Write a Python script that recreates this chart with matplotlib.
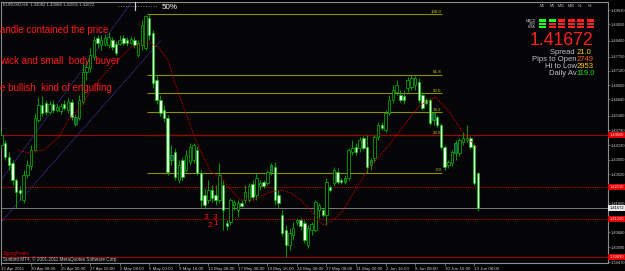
import matplotlib
matplotlib.use("Agg")
import matplotlib.pyplot as plt
from matplotlib.patches import Rectangle
from matplotlib.lines import Line2D

plt.rcParams['font.family'] = ['Liberation Sans', 'DejaVu Sans']

# EURUSD H8 candles, bar 0 = 15 Apr 2011 00:00
opens = [1.4420, 1.4428, 1.4371, 1.4347, 1.4279, 1.4239, 1.4198, 1.4299, 1.4335, 1.4400,
         1.4520, 1.4581, 1.4589, 1.4553, 1.4585, 1.4561, 1.4557, 1.4585, 1.4561, 1.4593,
         1.4532, 1.4528, 1.4593, 1.4714, 1.4730, 1.4774, 1.4850, 1.4822, 1.4826, 1.4822,
         1.4842, 1.4826, 1.4826, 1.4850, 1.4842, 1.4830, 1.4842, 1.4782, 1.4822, 1.4810,
         1.4931, 1.4870, 1.4681, 1.4601, 1.4561, 1.4528, 1.4379, 1.4392, 1.4279, 1.4359,
         1.4319, 1.4351, 1.4359, 1.4400, 1.4307, 1.4218, 1.4198, 1.4239, 1.4218, 1.4198,
         1.4259, 1.4106, 1.4110, 1.4178, 1.4158, 1.4186, 1.4198, 1.4198, 1.4263, 1.4218,
         1.4255, 1.4271, 1.4267, 1.4339, 1.4331, 1.4218, 1.4138, 1.4078, 1.4017, 1.4057,
         1.4110, 1.4118, 1.4106, 1.4017, 1.4078, 1.4078, 1.4158, 1.4158, 1.4138, 1.4251,
         1.4267, 1.4311, 1.4279, 1.4287, 1.4287, 1.4392, 1.4412, 1.4408, 1.4448, 1.4412,
         1.4359, 1.4367, 1.4452, 1.4500, 1.4480, 1.4549, 1.4601, 1.4633, 1.4621, 1.4617,
         1.4649, 1.4653, 1.4661, 1.4673, 1.4621, 1.4601, 1.4601, 1.4549, 1.4532, 1.4500,
         1.4412, 1.4339, 1.4347, 1.4428, 1.4388, 1.4432, 1.4440, 1.4448, 1.4420, 1.4308]
highs = [1.4480, 1.4440, 1.4392, 1.4359, 1.4287, 1.4255, 1.4319, 1.4359, 1.4420, 1.4549,
         1.4613, 1.4617, 1.4601, 1.4597, 1.4601, 1.4585, 1.4589, 1.4601, 1.4609, 1.4605,
         1.4544, 1.4621, 1.4750, 1.4754, 1.4810, 1.4858, 1.4862, 1.4862, 1.4866, 1.4874,
         1.4854, 1.4838, 1.4862, 1.4862, 1.4854, 1.4858, 1.4854, 1.4842, 1.4923, 1.4943,
         1.4947, 1.4883, 1.4701, 1.4621, 1.4581, 1.4540, 1.4420, 1.4408, 1.4359, 1.4371,
         1.4400, 1.4428, 1.4428, 1.4416, 1.4319, 1.4247, 1.4279, 1.4259, 1.4259, 1.4347,
         1.4279, 1.4118, 1.4206, 1.4198, 1.4198, 1.4198, 1.4259, 1.4267, 1.4279, 1.4307,
         1.4279, 1.4279, 1.4319, 1.4347, 1.4351, 1.4239, 1.4158, 1.4098, 1.4086, 1.4110,
         1.4126, 1.4126, 1.4118, 1.4098, 1.4110, 1.4198, 1.4186, 1.4166, 1.4287, 1.4259,
         1.4331, 1.4327, 1.4287, 1.4299, 1.4408, 1.4440, 1.4428, 1.4452, 1.4456, 1.4460,
         1.4367, 1.4460, 1.4512, 1.4512, 1.4561, 1.4621, 1.4661, 1.4681, 1.4641, 1.4641,
         1.4693, 1.4701, 1.4697, 1.4689, 1.4633, 1.4609, 1.4609, 1.4553, 1.4540, 1.4508,
         1.4420, 1.4359, 1.4400, 1.4440, 1.4448, 1.4472, 1.4500, 1.4456, 1.4428, 1.4309]
lows = [1.4408, 1.4359, 1.4319, 1.4259, 1.4166, 1.4198, 1.4186, 1.4287, 1.4319, 1.4392,
        1.4512, 1.4536, 1.4540, 1.4544, 1.4549, 1.4553, 1.4544, 1.4561, 1.4549, 1.4520,
        1.4496, 1.4520, 1.4585, 1.4681, 1.4714, 1.4762, 1.4810, 1.4802, 1.4818, 1.4810,
        1.4802, 1.4782, 1.4822, 1.4822, 1.4818, 1.4826, 1.4810, 1.4774, 1.4802, 1.4802,
        1.4842, 1.4649, 1.4585, 1.4536, 1.4512, 1.4299, 1.4339, 1.4279, 1.4267, 1.4279,
        1.4311, 1.4339, 1.4347, 1.4299, 1.4170, 1.4166, 1.4186, 1.4190, 1.4178, 1.4186,
        1.4078, 1.4078, 1.4098, 1.4158, 1.4130, 1.4170, 1.4186, 1.4190, 1.4198, 1.4198,
        1.4239, 1.4247, 1.4259, 1.4299, 1.4178, 1.4166, 1.4053, 1.3969, 1.3997, 1.4037,
        1.4098, 1.4078, 1.4025, 1.4005, 1.4057, 1.4070, 1.4126, 1.4130, 1.4098, 1.4231,
        1.4255, 1.4263, 1.4263, 1.4263, 1.4279, 1.4379, 1.4379, 1.4392, 1.4400, 1.4307,
        1.4319, 1.4351, 1.4440, 1.4480, 1.4472, 1.4540, 1.4589, 1.4621, 1.4593, 1.4585,
        1.4633, 1.4641, 1.4641, 1.4589, 1.4561, 1.4581, 1.4500, 1.4500, 1.4492, 1.4404,
        1.4319, 1.4327, 1.4335, 1.4359, 1.4375, 1.4420, 1.4432, 1.4404, 1.4259, 1.4156]
closes = [1.4460, 1.4371, 1.4339, 1.4279, 1.4231, 1.4227, 1.4299, 1.4339, 1.4400, 1.4528,
          1.4581, 1.4549, 1.4553, 1.4585, 1.4561, 1.4573, 1.4577, 1.4569, 1.4597, 1.4532,
          1.4504, 1.4601, 1.4714, 1.4734, 1.4782, 1.4842, 1.4830, 1.4842, 1.4850, 1.4854,
          1.4814, 1.4790, 1.4842, 1.4830, 1.4830, 1.4846, 1.4822, 1.4830, 1.4903, 1.4939,
          1.4862, 1.4669, 1.4601, 1.4549, 1.4528, 1.4311, 1.4359, 1.4291, 1.4339, 1.4291,
          1.4379, 1.4412, 1.4420, 1.4307, 1.4198, 1.4178, 1.4239, 1.4206, 1.4198, 1.4299,
          1.4158, 1.4094, 1.4198, 1.4190, 1.4186, 1.4174, 1.4231, 1.4255, 1.4210, 1.4287,
          1.4267, 1.4255, 1.4311, 1.4311, 1.4198, 1.4186, 1.4066, 1.4017, 1.4066, 1.4086,
          1.4118, 1.4094, 1.4037, 1.4086, 1.4102, 1.4190, 1.4178, 1.4138, 1.4271, 1.4239,
          1.4319, 1.4271, 1.4271, 1.4271, 1.4400, 1.4408, 1.4392, 1.4440, 1.4408, 1.4331,
          1.4339, 1.4452, 1.4500, 1.4488, 1.4549, 1.4601, 1.4641, 1.4661, 1.4601, 1.4601,
          1.4681, 1.4689, 1.4689, 1.4601, 1.4569, 1.4589, 1.4508, 1.4520, 1.4500, 1.4412,
          1.4331, 1.4351, 1.4392, 1.4388, 1.4440, 1.4448, 1.4448, 1.4412, 1.4267, 1.41672]
dark_bars = [20, 46, 73, 93, 100, 117, 123]

# moving average (dotted red)
ma_bar = [4.5, 7.2, 11.5, 15.6, 18.0, 21.5, 24.2, 29.6, 35.1, 39.6, 42.4, 45.1, 46.7, 48.6,
          52.1, 54.0, 56.7, 59.4, 62.1, 64.8, 68.3, 72.1, 75.6, 78.3, 81.0, 83.7, 85.6, 87.2,
          89.9, 92.6, 95.3, 99.1, 104.5, 110.7, 113.4, 117.5, 121.5, 125.1, 128.8]
ma_price = [1.4400, 1.4388, 1.4400, 1.4452, 1.4520, 1.4573, 1.4641, 1.4734, 1.4814, 1.4834,
            1.4814, 1.4762, 1.4681, 1.4601, 1.4460, 1.4392, 1.4311, 1.4291, 1.4239, 1.4198,
            1.4198, 1.4227, 1.4239, 1.4227, 1.4198, 1.4158, 1.4118, 1.4098, 1.4118, 1.4158,
            1.4227, 1.4319, 1.4412, 1.4532, 1.4581, 1.4613, 1.4549, 1.4468, 1.4408]

# trend channel
chan_a_bar, chan_a_price = [-0.1, 35.1], [1.4279, 1.4991]
chan_b_bar, chan_b_price = [-0.1, 43.2], [1.4110, 1.4842]

# fibo retracement
fib_high, fib_low = 1.4947, 1.4307
fib_levels = [100.0, 61.8, 50.0, 38.2, 23.6, 0.0]
fib_start, fib_end = 39.4, 119.4

# support / resistance
sr_solid = [1.4460, 1.3969]
sr_dotted = [1.4251, 1.4122]
bid = 1.41672

# right scale labels (the ones under the level boxes are hidden in the screenshot)
price_ticks = [1.49630, 1.49050, 1.48400, 1.47750, 1.47180, 1.46600, 1.46040, 1.45380, 1.44790,
               1.44190, 1.43600, 1.43020, 1.41850, 1.40680, 1.40090, 1.39470]
time_ticks = [0, 8, 16, 24, 32, 40, 48, 56, 64, 72, 80, 88, 96, 104, 112, 120, 128]
time_labels = ["15 Apr 2011", "20 Apr 08:00", "25 Apr 00:00", "27 Apr 16:00", "2 May 08:00",
               "5 May 00:00", "9 May 16:00", "12 May 08:00", "17 May 08:00", "19 May 16:00",
               "24 May 08:00", "27 May 08:00", "31 May 00:00", "2 Jun 16:00", "8 Jun 08:00",
               "10 Jun 16:00", "13 Jun 08:00"]

zz_text = ['3', '2', '3', '1']
zz_bar = [55.3, 56.4, 57.8, 58.0]
zz_price = [1.4122, 1.4090, 1.4122, 1.4098]

notes = ["andle contained the price", "wick and small  body  buyer", "e bullish  kind of engulfing"]

tf_names = ["M1", "M5", "M15", "M30", "H1", "H4"]
ind_names = ["MACD", "STR", "EMA"]
signal_grid = [[1, 1, 0, 0, 0, 0],
               [1, 0, 0, 0, 0, 0],
               [1, 0, 0, 0, 0, 0]]

W, H = 625, 271


def fx(x):
    return x / W


def fy(y):
    return 1 - y / H


fig = plt.figure(figsize=(6.25, 2.71), dpi=100, facecolor='black')
ax = fig.add_axes([fx(1.5), 8 / H, (608 - 1.5) / W, 261 / H])
ax.set_facecolor('#050508')
ax.set_xlim(0.32, 164.24)
ax.set_ylim(1.39447, 1.49953)

# horizontal lines
rng = fib_high - fib_low
for lv in fib_levels:
    p = fib_low + rng * lv / 100
    ax.hlines(p, fib_start, fib_end, color='#8f8f00', lw=0.8, zorder=2)
    ax.text(fib_end - 0.2, p + 0.0002, f"{lv:.1f}", ha='right', va='bottom',
            fontsize=3.2, color='#c8c800', zorder=6)
for p in sr_solid:
    ax.axhline(p, color='#a00000', lw=0.8, zorder=2.2)
for p in sr_dotted:
    ax.axhline(p, color='#c00000', lw=0.8, ls=(0, (1, 1)), zorder=2.2)
ax.axhline(bid, color='#7a7a7a', lw=0.7, zorder=2.2)

# channel
ax.plot(chan_a_bar, chan_a_price, color='#4a48d0', lw=0.6, ls=(0, (1, 1)), zorder=2.5)
ax.plot(chan_b_bar, chan_b_price, color='#4a48d0', lw=0.6, ls=(0, (1, 1)), zorder=2.5)

# candles
idx = range(len(opens))
ax.vlines(list(idx), lows, highs, color='#00b400', lw=0.6, zorder=3)
for i, o, c in zip(idx, opens, closes):
    if i in dark_bars:
        fc = '#1d4b57'
    elif c >= o:
        fc = 'black'
    else:
        fc = '#e4ffe4'
    ax.add_patch(Rectangle((i - 0.33, min(o, c)), 0.66, max(abs(c - o), 0.0002),
                           fc=fc, ec='#00c000', lw=0.5, zorder=4))

ax.plot(ma_bar, ma_price, color='#b00000', lw=0.7, ls=(0, (1.5, 1)), zorder=5)

for t, b, p in zip(zz_text, zz_bar, zz_price):
    ax.text(b, p, t, color='#ff1010', fontsize=6, va='baseline', ha='center', zorder=6)

# axes styling
for s in ax.spines.values():
    s.set_color('#8c8c8c')
    s.set_linewidth(0.8)
ax.yaxis.tick_right()
ax.set_yticks(price_ticks)
ax.set_yticklabels([f"{p:.5f}" for p in price_ticks])
ax.set_xticks(time_ticks)
ax.set_xticklabels(time_labels)
for lbl in ax.get_xticklabels():
    lbl.set_ha('left')
ax.tick_params(axis='x', colors='#8c8c8c', labelcolor='#c8c8c8', length=2,
               width=0.5, labelsize=3.2, pad=1)
ax.tick_params(axis='y', colors='#8c8c8c', labelcolor='#c8c8c8', length=1.5,
               width=0.5, labelsize=2.9, pad=0.6)

for p in sr_solid + sr_dotted:
    ax.annotate(f"{p:.5f}", xy=(1, p), xycoords=ax.get_yaxis_transform(),
                xytext=(1.0, 0), textcoords='offset points', va='center', ha='left',
                fontsize=2.9, color='#ffd8d8', annotation_clip=False, zorder=7,
                bbox=dict(boxstyle='square,pad=0.25', fc='#e00000', ec='none'))
ax.annotate(f"{bid:.5f}", xy=(1, bid), xycoords=ax.get_yaxis_transform(),
            xytext=(1.0, 0), textcoords='offset points', va='center', ha='left',
            fontsize=2.9, color='black', annotation_clip=False, zorder=7,
            bbox=dict(boxstyle='square,pad=0.25', fc='#e8e8e8', ec='none'))

# overlay texts
fig.text(fx(3), fy(6), "EURUSD,H8  1.43082 1.43068 1.41555 1.41672", fontsize=3.1,
         color='#c8c8c8', va='baseline')
fig.add_artist(Line2D([fx(118), fx(157)], [fy(6), fy(6)], color='#a0a0a0', lw=0.6, ls=(0, (1, 2))))
fig.add_artist(Line2D([fx(135), fx(135)], [fy(2), fy(10)], color='#d0d0d0', lw=0.8))
fig.text(fx(162), fy(9), "50%", fontsize=5.8, color='white', va='baseline')

for txt, y in zip(notes, [33, 64, 91]):
    fig.text(fx(0), fy(y), txt, fontsize=7, color='#ff1a1a', va='baseline')

fig.text(fx(3), fy(255.5), "ZigzagPeaks", fontsize=3.3, color='#e00000', va='baseline')
fig.text(fx(3), fy(261.5), "Sunbird MT4, \u00a9 2001-2011 MetaQuotes Software Corp.",
         fontsize=3.3, color='#c8c8c8', va='baseline')

# signal panel
col_x = [539, 548.5, 558, 567.5, 577, 586.5]
for j, name in enumerate(tf_names):
    fig.text(fx(col_x[j] + 3.5), fy(7), name, fontsize=2.6, color='#c0c0c0',
             ha='center', va='baseline')
for r, name in enumerate(ind_names):
    fig.text(fx(536), fy(21.5 + 3.3 * r), name, fontsize=2.6, color='#c0c0c0',
             ha='right', va='baseline')
    for j in range(len(tf_names)):
        col = '#20ff20' if signal_grid[r][j] else '#ff2020'
        fig.add_artist(Rectangle((fx(col_x[j]), fy(21.8 + 3.3 * r)), 7 / W, 2.6 / H,
                                 transform=fig.transFigure, fc=col, ec='none'))

fig.text(fx(593), fy(45), "1.41672", fontsize=12.7, color='#ff2020', ha='right', va='baseline')
info = [("Spread ", "21.0", '#ffd000', 54),
        ("Pips to Open", "2749", '#ff5a10', 61),
        ("Hi to Low", "2953", '#ffc800', 68),
        ("Daily Av", "119.0", '#20e020', 75)]
for lab, val, col, y in info:
    fig.text(fx(577), fy(y), lab, fontsize=5.5, color='#c0c4cc', ha='right', va='baseline')
    fig.text(fx(576 if lab.startswith("Daily") else 577), fy(y), val, fontsize=5.5,
             color=col, ha='left', va='baseline')

fig.savefig("out.png", dpi=100, facecolor='black')
